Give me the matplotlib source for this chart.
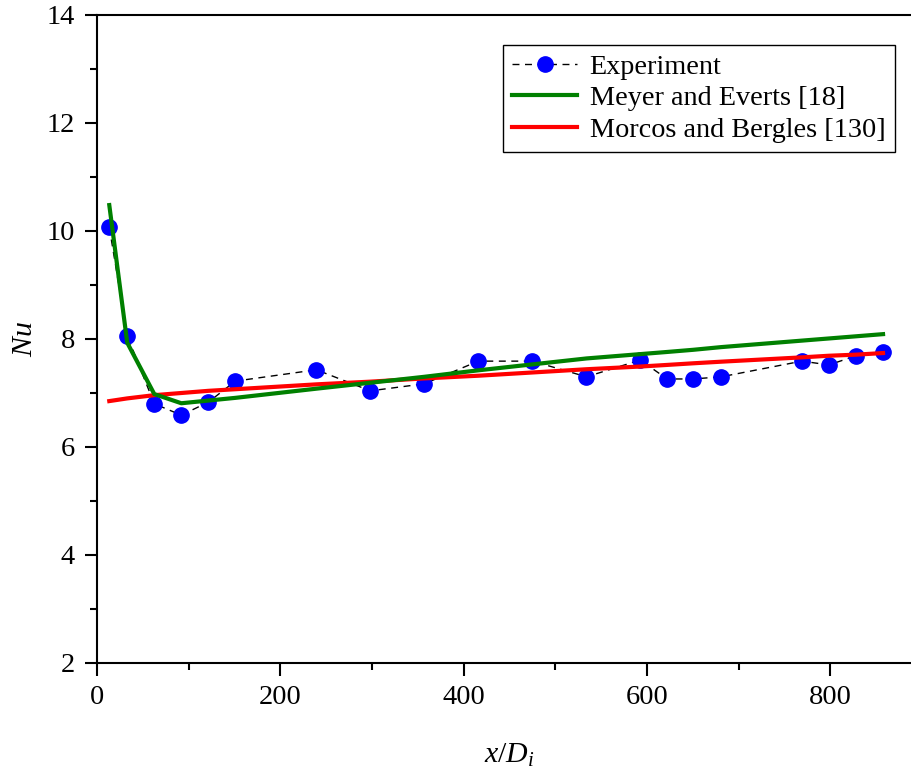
import matplotlib
matplotlib.use("Agg")
import matplotlib.pyplot as plt

plt.rcParams['font.family'] = ['Liberation Serif', 'DejaVu Serif']
plt.rcParams['mathtext.fontset'] = 'custom'
plt.rcParams['mathtext.rm'] = 'Liberation Serif'
plt.rcParams['mathtext.it'] = 'Liberation Serif:italic'

# Axial position x/Di of the measuring stations
x_pos = [13.4, 33, 62.5, 92, 121.4, 150.9, 239.3, 298.2, 357, 416,
         475, 534, 592.6, 622, 650.4, 681, 769, 798.5, 828, 857.5]

# Measured local Nusselt numbers
nu_exp = [10.07, 8.06, 6.80, 6.59, 6.83, 7.22, 7.43, 7.04, 7.17, 7.59,
          7.59, 7.30, 7.61, 7.26, 7.26, 7.30, 7.59, 7.52, 7.69, 7.76]

# Correlation predictions at the same stations
nu_meyer = [10.48, 7.93, 6.98, 6.81, 6.86, 6.91, 7.08, 7.19, 7.30, 7.42,
            7.53, 7.64, 7.72, 7.76, 7.80, 7.85, 7.97, 8.01, 8.05, 8.09]
nu_morcos = [6.85, 6.90, 6.96, 7.00, 7.04, 7.07, 7.16, 7.21, 7.27, 7.32,
             7.38, 7.44, 7.49, 7.52, 7.55, 7.58, 7.66, 7.69, 7.71, 7.74]

labels = ["Experiment", "Meyer and Everts [18]", "Morcos and Bergles [130]"]

fig = plt.figure(figsize=(9.12, 7.74), dpi=100)
ax = fig.add_axes([97 / 912, 1 - 663 / 774, 825 / 912, 648 / 774])

ax.plot(x_pos, nu_exp, linestyle=(0, (5, 4)), color='black', linewidth=1.0,
        marker='o', markersize=11, markerfacecolor='blue',
        markeredgecolor='blue', label=labels[0], zorder=2)
ax.plot(x_pos, nu_morcos, color='#ff0000', linewidth=3.0,
        label=labels[2], zorder=3)
ax.plot(x_pos, nu_meyer, color='#008000', linewidth=3.0,
        label=labels[1], zorder=4)

ax.set_xlim(0, 900)
ax.set_ylim(2, 14)
ax.set_xticks([0, 200, 400, 600, 800])
ax.set_xticks([100, 300, 500, 700, 900], minor=True)
ax.set_yticks([2, 4, 6, 8, 10, 12, 14])
ax.set_yticks([3, 5, 7, 9, 11, 13], minor=True)

for s in ax.spines.values():
    s.set_linewidth(1.5)

ax.tick_params(which='major', direction='out', length=9, width=1.5,
               labelsize=20.5, pad=7)
ax.tick_params(which='minor', direction='out', length=5, width=1.5)

ax.set_xlabel('$x/D_i$', fontsize=21.5, labelpad=23)
ax.set_ylabel('$Nu$', fontsize=21.5, labelpad=6)

h, l = ax.get_legend_handles_labels()
order = [l.index(t) for t in labels]
leg = ax.legend([h[i] for i in order], [l[i] for i in order],
                loc='upper right', bbox_to_anchor=(0.967, 0.954),
                borderaxespad=0, fontsize=20.3, fancybox=False,
                framealpha=1, edgecolor='black', handlelength=2.3,
                handletextpad=0.45, labelspacing=0.2, borderpad=0.33)
leg.get_frame().set_linewidth(1.0)

fig.savefig("out.png", dpi=100)
